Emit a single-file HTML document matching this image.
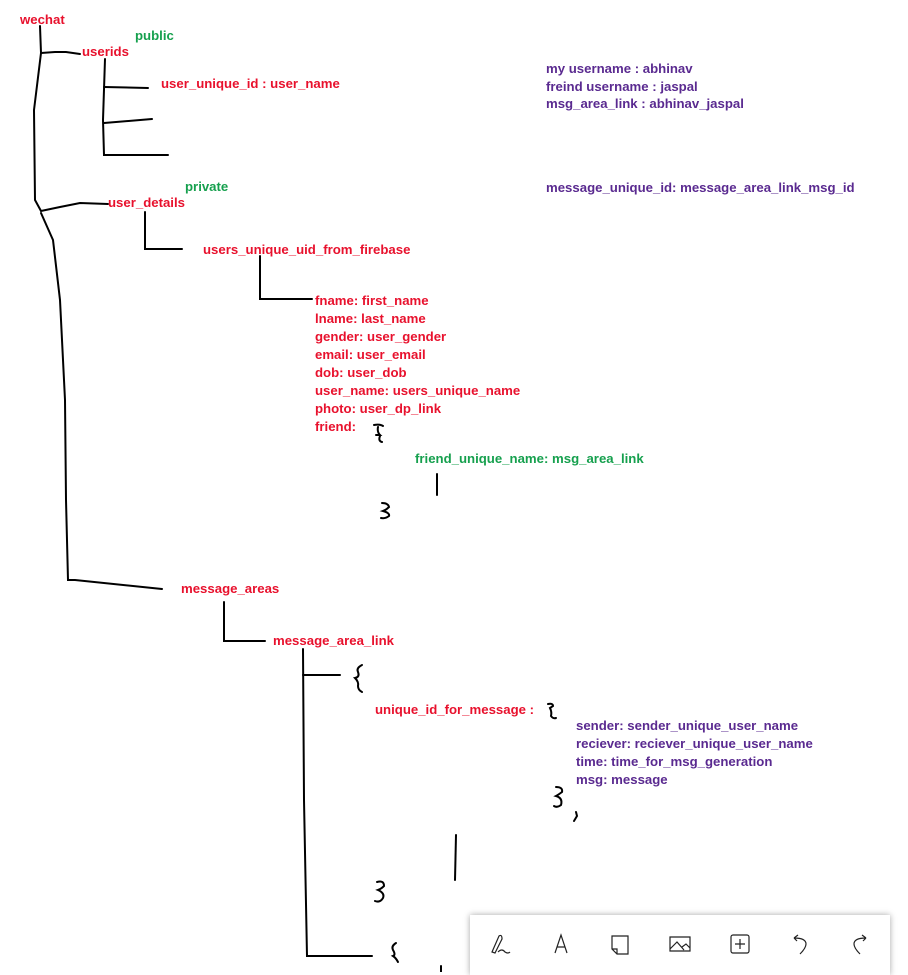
<!DOCTYPE html>
<html><head><meta charset="utf-8"><style>
html,body{margin:0;padding:0;background:#fff;width:908px;height:972px;overflow:hidden}
svg{position:absolute;left:0;top:0}
text{font-family:"Liberation Sans",sans-serif;font-size:13.2px;font-weight:bold}
.r{fill:#e8112d}.g{fill:#16a04e}.p{fill:#5a2a90}
.tb{position:absolute;left:470px;top:915px;width:420px;height:60px;background:#fff;box-shadow:0 0 6px rgba(0,0,0,.35)}
</style></head><body>
<svg width="908" height="972" viewBox="0 0 908 972">
<g fill="none" stroke="#000" stroke-width="2" stroke-linecap="round">
<path d="M40 26 L41 53 L34 110 L35 200 L41 211 L60 207 L80 203 L108 204"/>
<path d="M41 53 L55 52 L66 52 L80 54"/>
<path d="M41 213 L53 240 L60 300 L65 400 L66 500 L68 580 L75 580 L162 589"/>
<path d="M105 59 L103 120 L104 155 L168 155"/>
<path d="M104 87 L148 88"/>
<path d="M104 123 L152 119"/>
<path d="M145 212 L145 249 L182 249"/>
<path d="M260 256 L260 299 L312 299"/>
<path d="M224 602 L224 641 L265 641"/>
<path d="M303 649 L304 800 L307 956 L372 956"/>
<path d="M303 675 L340 675"/>
<path d="M437 474 L437 495"/>
<path d="M456 835 L455 880"/>
<path d="M441 966 L441 972"/>
<path d="M374 425 Q380 424 383 426 M378 427 Q377 432 380 435 L376 435 M380 436 Q378 441 382 442"/>
<path d="M382 503 Q388 503 389 507 Q386 510 383 511 Q390 513 389 516 Q385 519 381 518"/>
<path d="M362 665 Q356 668 358 672 Q360 677 355 678 Q359 682 358 686 Q358 690 362 692"/>
<path d="M548 704 Q553 703 553 706 L550 708 Q552 712 551 716 Q553 719 556 718"/>
<path d="M556 787 Q563 787 562 792 Q558 795 556 796 Q563 798 561 805 Q557 808 554 806"/>
<path d="M576 812 L577 816 L574 821"/>
<path d="M377 882 Q384 880 384 886 Q381 889 378 890 Q385 893 383 898 Q380 903 375 901"/>
<path d="M396 943 Q391 946 393 950 Q396 955 393 956 Q396 958 398 962"/>
</g>
<text x="20" y="24" class="r">wechat</text>
<text x="135" y="40" class="g">public</text>
<text x="82" y="56" class="r">userids</text>
<text x="161" y="88" class="r">user_unique_id : user_name</text>
<text x="185" y="191" class="g">private</text>
<text x="108" y="207" class="r">user_details</text>
<text x="203" y="254" class="r">users_unique_uid_from_firebase</text>
<text x="315" y="305" class="r">fname: first_name</text>
<text x="315" y="323" class="r">lname: last_name</text>
<text x="315" y="341" class="r">gender: user_gender</text>
<text x="315" y="359" class="r">email: user_email</text>
<text x="315" y="377" class="r">dob: user_dob</text>
<text x="315" y="395" class="r">user_name: users_unique_name</text>
<text x="315" y="413" class="r">photo: user_dp_link</text>
<text x="315" y="431" class="r">friend:</text>
<text x="415" y="463" class="g">friend_unique_name: msg_area_link</text>
<text x="181" y="593" class="r">message_areas</text>
<text x="273" y="645" class="r">message_area_link</text>
<text x="375" y="714" class="r">unique_id_for_message :</text>
<text x="576" y="730" class="p">sender: sender_unique_user_name</text>
<text x="576" y="748" class="p">reciever: reciever_unique_user_name</text>
<text x="576" y="766" class="p">time: time_for_msg_generation</text>
<text x="576" y="784" class="p">msg: message</text>
<text x="546" y="73" class="p">my username : abhinav</text>
<text x="546" y="91" class="p">freind username : jaspal</text>
<text x="546" y="108" class="p">msg_area_link : abhinav_jaspal</text>
<text x="546" y="192" class="p">message_unique_id: message_area_link_msg_id</text>
</svg>
<div class="tb"></div>
<svg width="908" height="972" viewBox="0 0 908 972">
<g fill="none" stroke="#222" stroke-width="1.2">
<path d="M492 952 L499 936 Q502 934 502 939 L495 953 Z M498 952 Q502 948 505 952 Q508 954 510 952"/>
<path d="M555 953 L561 935 L567 953 M557 947 L565 947"/>
<path d="M612 936 L628 936 L628 954 L617 954 L612 949 Z M612 949 L617 949 L617 954"/>
<path d="M670 937 L690 937 L690 951 L670 951 Z M670 949 L677 942 L684 950 M682 947 L686 944 L690 948"/>
<rect x="731" y="935" width="18" height="18" rx="2"/>
<path d="M740 939 L740 949 M735 944 L745 944"/>
<path d="M794 938 L798 935 M794 938 L797 941 M794 938 Q806 938 806 944 Q806 948 800 954"/>
<path d="M866 938 L862 935 M866 938 L863 941 M866 938 Q854 938 854 944 Q854 948 860 954"/>
</g>
</svg>
</body></html>
